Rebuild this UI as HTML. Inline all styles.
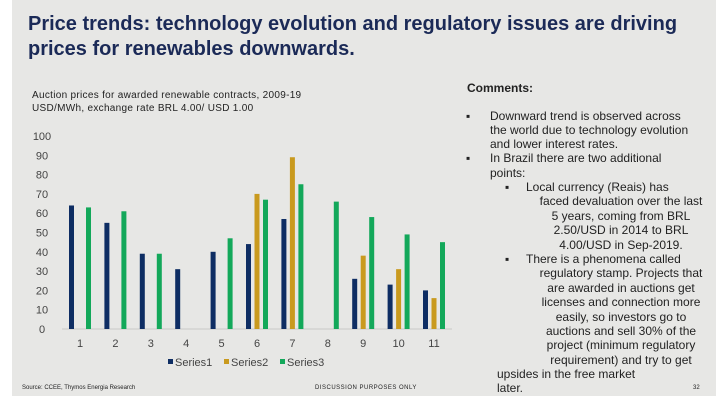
<!DOCTYPE html>
<html><head><meta charset="utf-8"><style>
html,body{margin:0;padding:0;background:#fff;}
#slide{position:relative;width:720px;height:408px;overflow:hidden;font-family:"Liberation Sans",sans-serif;}
#bg{position:absolute;left:12px;top:0;width:704px;height:396px;background:#e7e7e5;}
.t{position:absolute;white-space:nowrap;color:#222;}
.c{position:absolute;font-size:12px;color:#222;white-space:nowrap;line-height:14px;}
.cc{text-align:center;width:220px;left:511px;}
</style></head><body>
<div id="slide">
<div id="bg"></div>
<div class="t" style="left:28px;top:12px;font-size:20px;font-weight:bold;color:#1b2a57;line-height:25px;">Price trends: technology evolution and regulatory issues are driving<br>prices for renewables downwards.</div>
<div class="t" style="left:32px;top:89px;font-size:10px;line-height:13px;letter-spacing:0.3px;">Auction prices for awarded renewable contracts, 2009-19<br>USD/MWh, exchange rate BRL 4.00/ USD 1.00</div>
<svg id="chart" width="720" height="408" style="position:absolute;left:0;top:0;"></svg>
<div class="t" style="left:467px;top:81px;font-size:12px;font-weight:bold;">Comments:</div>
<div>
<div class="c" style="left:466px;top:109px;">▪</div>
<div class="c" style="left:490px;top:109px;">Downward trend is observed across</div>
<div class="c" style="left:490px;top:123px;">the world due to technology evolution</div>
<div class="c" style="left:490px;top:137px;">and lower interest rates.</div>
<div class="c" style="left:466px;top:151px;">▪</div>
<div class="c" style="left:490px;top:151px;">In Brazil there are two additional</div>
<div class="c" style="left:490px;top:166px;">points:</div>
<div class="c" style="left:505px;top:180px;">▪</div>
<div class="c" style="left:526px;top:180px;">Local currency (Reais) has</div>
<div class="c cc" style="top:194px;">faced devaluation over the last</div>
<div class="c cc" style="top:209px;">5 years, coming from BRL</div>
<div class="c cc" style="top:223px;">2.50/USD in 2014 to BRL</div>
<div class="c cc" style="top:238px;">4.00/USD in Sep-2019.</div>
<div class="c" style="left:505px;top:252px;">▪</div>
<div class="c" style="left:526px;top:252px;">There is a phenomena called</div>
<div class="c cc" style="top:266px;">regulatory stamp. Projects that</div>
<div class="c cc" style="top:281px;">are awarded in auctions get</div>
<div class="c cc" style="top:295px;">licenses and connection more</div>
<div class="c cc" style="top:310px;">easily, so investors go to</div>
<div class="c cc" style="top:324px;">auctions and sell 30% of the</div>
<div class="c cc" style="top:338px;">project (minimum regulatory</div>
<div class="c cc" style="top:353px;">requirement) and try to get</div>
<div class="c" style="left:497px;top:367px;">upsides in the free market</div>
<div class="c" style="left:497px;top:381px;">later.</div>
</div>
<div class="t" style="left:22px;top:385px;font-size:6px;">Source: CCEE, Thymos Energia Research</div>
<div class="t" style="left:315px;top:385px;font-size:6px;letter-spacing:0.5px;">DISCUSSION PURPOSES ONLY</div>
<div class="t" style="left:693px;top:385px;font-size:6px;">32</div>
</div>
<script>
const categories=["1","2","3","4","5","6","7","8","9","10","11"];
const series1=[64,55,39,31,40,44,57,0,26,23,20];
const series2=[0,0,0,0,0,70,89,0,38,31,16];
const series3=[63,61,39,0,47,67,75,66,58,49,45];
const yTicks=[0,10,20,30,40,50,60,70,80,90,100];
const seriesNames=["Series1","Series2","Series3"];
const NS="http://www.w3.org/2000/svg";
const svg=document.getElementById('chart');
const colors=["#0e2d63","#c99a1e","#13a85a"];
const y0=329,y100=136,xFirst=80,xLast=434;
function yS(v){return y0-(y0-y100)*v/100;}
function xS(i){return xFirst+(xLast-xFirst)*i/(categories.length-1);}
function mk(tag,attrs){const e=document.createElementNS(NS,tag);for(const k in attrs)e.setAttribute(k,attrs[k]);svg.appendChild(e);return e;}
const ax=mk('line',{x1:62,x2:452,y1:y0,y2:y0,stroke:'#c8c8c8','stroke-width':1});


yTicks.forEach(v=>{
  const t=mk('text',{x:42,y:yS(v)+4,'text-anchor':'middle','font-size':11,fill:'#444','font-family':'Liberation Sans, sans-serif'});
  t.textContent=v;
  
  
});
categories.forEach((c,i)=>{
  const t=mk('text',{x:xS(i),y:y0+18,'text-anchor':'middle','font-size':11,fill:'#444','font-family':'Liberation Sans, sans-serif'});
  t.textContent=c;
  
  
});
const all=[series1,series2,series3];
const offs=[-8.5,0,8.5];
all.forEach((s,si)=>{
  s.forEach((v,i)=>{
    if(!v)return;
    const r=mk('rect',{x:xS(i)+offs[si]-2.5,y:yS(v),width:5,height:y0-yS(v),fill:colors[si]});
    
    
  });
});
const lx=[168,224,280];
seriesNames.forEach((n,i)=>{
  const r=mk('rect',{x:lx[i],y:359,width:5,height:5,fill:colors[i]});
  
  
  const t=mk('text',{x:lx[i]+7,y:366,'font-size':11,fill:'#444','font-family':'Liberation Sans, sans-serif'});
  t.textContent=n;
  
  
});
</script>
</body></html>
